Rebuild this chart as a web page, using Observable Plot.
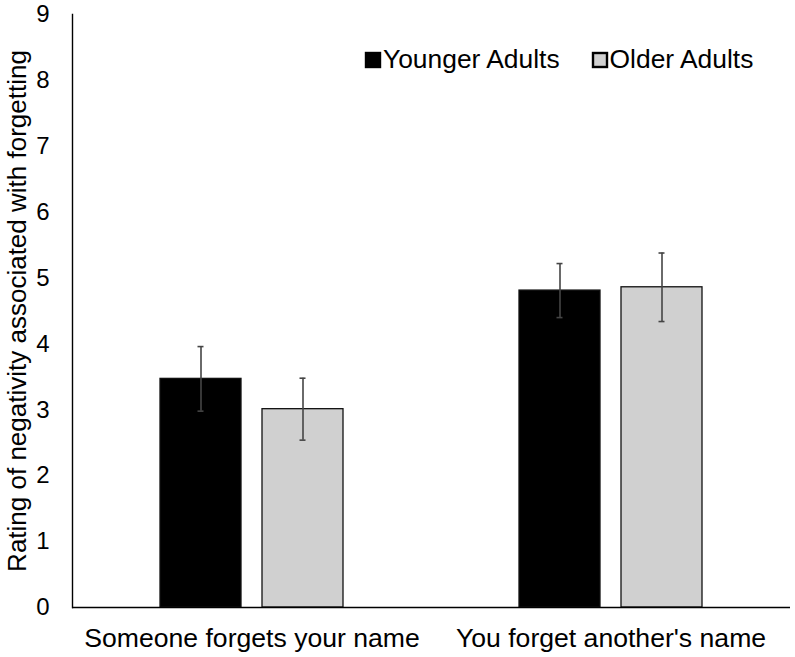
<!DOCTYPE html>
<html>
<head>
<meta charset="utf-8">
<script src="https://cdn.jsdelivr.net/npm/d3@7"></script>
<script src="https://cdn.jsdelivr.net/npm/@observablehq/plot@0.6"></script>
<style>
  html, body { margin: 0; padding: 0; background: #fff; }
  #wrap { position: relative; width: 795px; height: 657px; }
  #legend { position: absolute; left: 366px; top: 43px; }
  #legend > div { font-size: 26.4px !important; font-family: 'Liberation Sans', Arial, sans-serif !important; }
  #legend span { margin-right: 33px !important; font-size: 26.4px !important; color: #000 !important; }
  #legend svg { margin-right: 3px !important; }
  #legend svg rect { stroke: #000; stroke-width: 2.4; }
</style>
</head>
<body>
<div id="wrap"></div>
<script>
const categories = ["Someone forgets your name", "You forget another's name"];
const groups = ["Younger Adults", "Older Adults"];
const younger = [3.47, 4.81];
const older = [3.01, 4.86];
const youngerErr = [0.49, 0.41];
const olderErr = [0.47, 0.52];
const yTicks = [0, 1, 2, 3, 4, 5, 6, 7, 8, 9];
const colors = ["#000000", "#d0d0d0"];

const rows = [];
categories.forEach((c, i) => {
  rows.push({cat: c, group: groups[0], value: younger[i], err: youngerErr[i]});
  rows.push({cat: c, group: groups[1], value: older[i], err: olderErr[i]});
});

const font = "'Liberation Sans', Arial, sans-serif";

const chart = Plot.plot({
  width: 795,
  height: 657,
  marginTop: 14,
  marginBottom: 50,
  marginLeft: 71,
  marginRight: 5,
  style: {fontFamily: font, color: "#000", background: "#fff"},
  fx: {domain: categories, padding: 0, axis: null},
  x: {domain: groups, paddingInner: 0.204, paddingOuter: 0.85, axis: null},
  y: {domain: [0, 9], axis: null},
  color: {domain: groups, range: colors},
  marks: [
    Plot.barY(rows, {fx: "cat", x: "group", y: "value", fill: "group", stroke: "#111", strokeWidth: 1.3}),
    Plot.ruleX(rows, {fx: "cat", x: "group", y1: d => d.value - d.err, y2: d => d.value + d.err, stroke: "#454545", strokeWidth: 1.6}),
    Plot.tickY(rows, {fx: "cat", x: "group", y: d => d.value + d.err, stroke: "#454545", strokeWidth: 1.6, insetLeft: 37.5, insetRight: 37.5}),
    Plot.tickY(rows, {fx: "cat", x: "group", y: d => d.value - d.err, stroke: "#454545", strokeWidth: 1.6, insetLeft: 37.5, insetRight: 37.5}),
    Plot.ruleY([0], {stroke: "#000", strokeWidth: 1.4}),
    Plot.frame({anchor: "left", facetAnchor: "left", stroke: "#000", strokeWidth: 1.4}),
    Plot.axisY(yTicks, {anchor: "left", tickSize: 0, tickPadding: 23, fontSize: 24, label: null, tickFormat: d => String(d)}),
    Plot.axisY([], {anchor: "left", tickSize: 0, fontSize: 26, label: "Rating of negativity associated with forgetting", labelAnchor: "center", labelArrow: "none", labelOffset: 65}),
    Plot.axisFx({anchor: "bottom", tickSize: 0, tickPadding: 21, fontSize: 26.6, label: null})
  ]
});

const wrap = document.getElementById("wrap");
wrap.appendChild(chart);

const legend = Plot.legend({
  color: {domain: groups, range: colors},
  swatchSize: 14,
  style: {fontFamily: font, fontSize: "26.4px", color: "#000"}
});
const lg = document.createElement("div");
lg.id = "legend";
lg.appendChild(legend);
wrap.appendChild(lg);
</script>
</body>
</html>
